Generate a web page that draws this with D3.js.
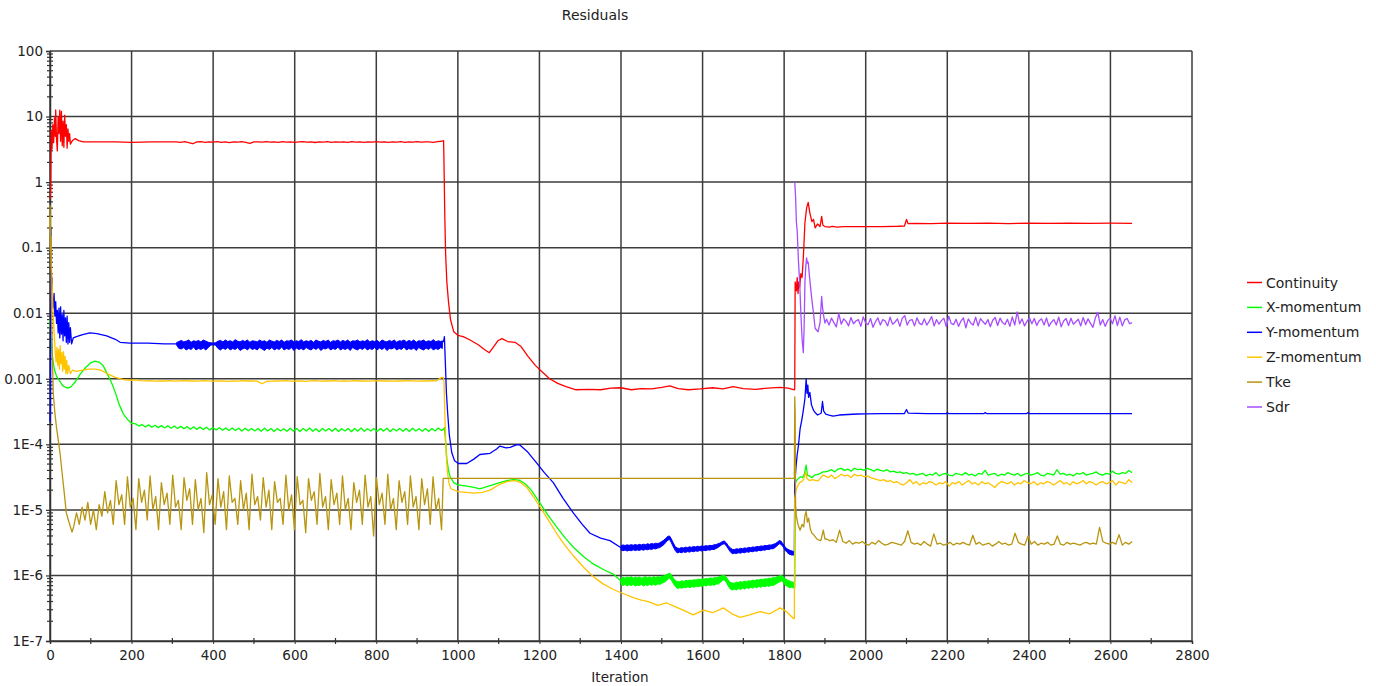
<!DOCTYPE html>
<html>
<head>
<meta charset="utf-8">
<script src="https://cdn.jsdelivr.net/npm/d3@7"></script>
<style>
  body { margin: 0; background: #fff; }
  svg { display: block; }
  text { font-family: "DejaVu Sans", sans-serif; fill: #222; }
</style>
</head>
<body>
<svg id="chart" width="1376" height="686"></svg>
<script>
// Evenly spaced samples between two iterations; vals are given in multiples of unit.
function run(from, to, unit, vals) {
  const n = vals.length;
  return vals.map((v, i) => [from + (to - from) * i / (n - 1), v * unit]);
}
// Min/max envelope rows [iteration, low, high] in multiples of unit.
function band(unit, rows) {
  return rows.map(r => [r[0], r[1] * unit, r[2] * unit]);
}

// ---- axis ticks ----
const xTickValues = [0, 200, 400, 600, 800, 1000, 1200, 1400, 1600, 1800, 2000, 2200, 2400, 2600, 2800];
const yTickValues = [100, 10, 1, 0.1, 0.01, 0.001, 1e-4, 1e-5, 1e-6, 1e-7];
const yTickLabels = ["100", "10", "1", "0.1", "0.01", "0.001", "1E-4", "1E-5", "1E-6", "1E-7"];

const seriesNames = ["Continuity", "X-momentum", "Y-momentum", "Z-momentum", "Tke", "Sdr"];
const seriesColors = ["#ff0000", "#00ff00", "#0000ff", "#ffc400", "#b8950f", "#a64dff"];

// ---- Continuity ----
const continuityStart = [[0,0.55],[1,0.62],[2,1.1],[3,6.2],[5,3.2],[7,7.5],[9,4],[11,9.5],[13,5],[14,12.6],[16,4.5],[18,3.0],[20,10],[22,5.5],[24,12.5],[26,4.2],[28,12],[30,3.6],[32,8.5],[34,3.4],[36,10.5],[38,5],[40,7.5],[42,3.3],[44,6.5],[46,4.2],[48,5.5],[50,3.8],[55,4.3],[62,4.6],[70,4.3],[82,4.1],[110,4.1],[160,4.1],[200,4.05],[250,4.1],[305,4.1]];
const continuityPlateau = run(310, 960, 1, [4.1,4.05,4.15,4.0,3.85,4.1,4.15,4.05,4.12,4.08,4.15,4.05,4.1,4.0,4.12,4.08,4.15,4.05,3.9,4.1,4.12,4.06,4.15,4.08,4.1,4.05,4.14,4.08,4.12,4.04,4.1,4.15,4.06,4.1,4.02,4.12,4.08,4.15,4.05,4.1,4.08,4.12,4.04,4.14,4.08,4.1,4.05,4.12,4.08,4.15,4.06,4.1,4.04,4.12,4.08,4.14,4.05,4.1,4.08,4.15,4.06,4.12,4.1,4.05,4.14,4.2]);
const continuityMid = [[965,4.3],[966,2],[968,0.3],[970,0.08],[973,0.03],[977,0.015],[982,0.008],[990,0.0052],[1000,0.0046],[1013,0.0044],[1030,0.0039],[1050,0.0033],[1065,0.0028],[1077,0.0025],[1088,0.0031],[1098,0.0038],[1108,0.0041],[1122,0.0037],[1140,0.0036],[1155,0.0031],[1172,0.0022],[1190,0.0016],[1205,0.0013],[1225,0.001],[1245,0.00085],[1265,0.00076],[1290,0.00068],[1320,0.00069],[1350,0.00068],[1375,0.00072],[1400,0.00073],[1425,0.00068],[1450,0.00071],[1475,0.0007],[1500,0.00074],[1520,0.00078],[1540,0.00071],[1565,0.00068],[1595,0.0007],[1625,0.00073],[1650,0.0007],[1675,0.00076],[1700,0.00071],[1730,0.00069],[1760,0.00072],[1790,0.00074],[1810,0.00072],[1825,0.00068]];
const continuityRestart = [[1826,0.0007],[1827,0.03],[1830,0.022],[1832,0.035],[1834,0.02],[1836,0.03],[1838,0.025],[1841,0.04],[1844,0.035],[1847,0.07],[1851,0.24],[1855,0.4],[1859,0.49],[1863,0.34],[1868,0.25],[1872,0.27],[1876,0.2],[1882,0.23],[1888,0.21],[1892,0.3],[1895,0.22],[1900,0.21],[1910,0.205],[1918,0.212],[1930,0.206],[1945,0.21],[1960,0.209],[1980,0.21],[2000,0.21],[2040,0.21],[2080,0.212],[2095,0.214],[2100,0.27],[2104,0.232],[2120,0.235],[2160,0.232],[2200,0.236],[2250,0.234],[2300,0.236],[2350,0.233],[2400,0.236],[2450,0.234],[2500,0.237],[2550,0.235],[2600,0.236],[2653,0.234]];

// ---- X-momentum ----
const xStart = [[0,0.008],[2,0.0045],[4,0.003],[6,0.0022],[9,0.0016],[12,0.0013],[16,0.0011],[20,0.001],[25,0.0009],[30,0.0008],[36,0.00075],[44,0.00072],[52,0.00076],[62,0.0009],[75,0.0012],[88,0.0015],[100,0.00175],[110,0.00186],[120,0.0018],[130,0.0016],[140,0.0012],[150,0.0009],[160,0.00062],[170,0.0004],[180,0.00029],[190,0.00024],[200,0.00021]];
const xPlateau = run(210, 960, 1e-4, [2.05,1.9,2.0,1.84,1.98,1.82,1.95,1.8,1.93,1.78,1.92,1.76,1.9,1.74,1.88,1.73,1.86,1.7,1.85,1.69,1.84,1.68,1.82,1.66,1.8,1.65,1.79,1.64,1.78,1.62,1.77,1.62,1.76,1.6,1.76,1.61,1.75,1.6,1.74,1.58,1.76,1.6,1.74,1.57,1.75,1.6,1.73,1.58,1.76,1.59,1.74,1.57,1.75,1.6,1.77,1.58,1.73,1.56,1.75,1.6,1.74,1.58,1.76,1.57,1.73,1.6,1.75,1.56,1.74,1.59,1.77,1.58,1.73,1.6,1.75,1.57,1.74,1.59,1.76,1.56,1.73,1.6,1.75,1.58,1.74,1.57,1.76,1.6,1.73,1.58,1.75,1.57,1.74,1.6,1.77,1.62]);
const xDrop = [[965,0.00017],[967,0.00018],[970,0.00011],[973,6e-5],[977,4e-5],[981,3.2e-5],[990,2.6e-5],[1000,2.4e-5],[1022,2.3e-5],[1040,2.2e-5],[1054,2.1e-5],[1075,2.3e-5],[1103,2.6e-5],[1120,2.8e-5],[1136,2.9e-5],[1150,2.85e-5],[1165,2.5e-5],[1180,2e-5],[1200,1.3e-5],[1220,8.5e-6],[1242,5.5e-6],[1262,3.8e-6],[1283,2.7e-6],[1310,1.9e-6],[1332,1.5e-6],[1360,1.2e-6],[1381,1.05e-6],[1400,8.2e-7]];
const xBand = band(1e-7, [[1400,7.4,9.0],[1405,7.0,9.4],[1410,7.3,9.1],[1415,6.9,9.5],[1420,7.2,9.2],[1425,7.0,9.6],[1430,7.3,9.1],[1435,6.9,9.4],[1440,7.1,9.2],[1445,7.0,9.5],[1450,7.3,9.1],[1455,6.9,9.3],[1460,7.2,9.6],[1465,7.0,9.2],[1470,7.3,9.5],[1475,7.1,9.2],[1480,7.3,9.6],[1485,7.1,9.3],[1490,7.4,9.6],[1495,7.3,9.4],[1500,7.6,9.8],[1505,7.8,9.8],[1510,8.2,10.2],[1515,8.7,10.5],[1519,9.2,10.9],[1524,8.4,10.1],[1529,7.4,9.0],[1534,6.7,8.3],[1539,6.3,8.1],[1544,6.5,8.0],[1549,6.4,8.3],[1554,6.6,8.1],[1559,6.5,8.4],[1564,6.7,8.3],[1569,6.5,8.5],[1574,6.8,8.4],[1579,6.6,8.6],[1584,6.9,8.5],[1589,6.7,8.8],[1594,6.9,8.6],[1599,6.8,8.9],[1604,7.1,8.8],[1609,6.9,9.0],[1614,7.2,8.9],[1619,7.0,9.2],[1624,7.2,9.0],[1629,7.1,9.3],[1634,7.4,9.2],[1639,7.4,9.5],[1644,7.9,9.7],[1649,8.4,10.0],[1653,8.6,10.2],[1658,7.9,9.4],[1663,6.9,8.5],[1668,6.2,7.8],[1673,6.0,7.7],[1678,6.2,7.6],[1683,6.0,7.9],[1688,6.3,7.8],[1693,6.1,8.1],[1698,6.4,7.9],[1703,6.2,8.2],[1708,6.5,8.0],[1713,6.3,8.3],[1718,6.6,8.2],[1723,6.4,8.5],[1728,6.7,8.3],[1733,6.5,8.6],[1738,6.8,8.5],[1743,6.6,8.8],[1748,6.9,8.6],[1753,6.7,8.9],[1758,7.0,8.8],[1763,6.8,9.1],[1768,7.1,9.0],[1773,7.0,9.3],[1778,7.3,9.2],[1783,7.6,9.6],[1788,7.9,9.8],[1793,8.3,10.1],[1798,7.8,9.5],[1803,7.1,8.9],[1808,6.8,8.5],[1813,6.5,8.3],[1818,6.6,8.0],[1825,6.4,7.8]]);
const xRestart = [[1825,6.6e-7],[1826,6.6e-7],[1827,2.5e-5],[1830,2.8e-5],[1835,3e-5],[1840,3.2e-5],[1845,3.1e-5],[1850,3.6e-5],[1854,4.8e-5],[1857,3.4e-5],[1862,3.3e-5],[1868,3.1e-5],[1875,3.4e-5],[1885,3.5e-5],[1895,3.8e-5]];
const xLate = run(1900, 2653, 1e-5, [3.8,3.9,4.1,3.8,4.2,4.3,4.0,4.2,3.9,4.3,4.1,4.2,4.0,4.3,4.1,3.9,4.2,4.0,3.9,4.1,3.8,3.9,3.7,3.8,3.6,3.7,3.5,3.6,3.4,3.5,3.6,3.3,3.5,3.4,3.7,3.3,3.5,3.6,3.4,3.3,3.6,3.5,3.4,3.7,3.4,3.5,3.3,3.6,3.5,4.0,3.4,3.5,3.6,3.3,3.5,3.4,3.7,3.5,3.4,3.6,3.3,3.5,3.6,3.4,3.5,3.7,3.4,3.3,3.6,3.5,3.4,4.1,3.5,3.6,3.4,3.5,3.3,3.6,3.5,3.7,3.4,3.5,3.6,3.8,3.5,3.4,3.6,3.5,3.9,3.6,3.5,3.7,3.6,4.0,3.7]);

// ---- Y-momentum ----
const yStart = [[0,0.00022],[1,0.00037],[2,0.2],[3,0.05],[4,0.028],[5,0.035],[6,0.018],[8,0.012],[10,0.02],[12,0.009],[14,0.015],[16,0.007],[18,0.011],[20,0.005],[22,0.012],[24,0.0042],[26,0.0125],[28,0.0048],[30,0.0095],[32,0.0038],[34,0.011],[36,0.0045],[38,0.0085],[40,0.0036],[42,0.009],[44,0.0034],[46,0.0072],[48,0.0036],[50,0.006],[53,0.0034],[57,0.0042],[65,0.0044],[80,0.0047],[98,0.005],[115,0.0049],[139,0.0045],[160,0.004],[172,0.0036],[196,0.0035],[240,0.0035],[280,0.0034],[310,0.0034]];
const yPlateauBand = band(1e-4, [[310,33,35.5],[316,29,37],[322,28.5,38.5],[328,30,36.5],[334,27.5,37.5],[340,29,39],[346,28,36],[352,30.5,38],[358,27.5,37],[364,29,38.5],[370,28,36.5],[376,29.5,39],[382,27.5,37.5],[388,30,36],[394,32.5,35.5],[400,33,35],[406,32.5,35.5],[412,29,37.5],[418,27.5,38.5],[424,29.5,36.5],[430,28,39],[436,30,37],[442,27.5,38],[448,29,36.5],[454,28,39.5],[460,30,37.5],[466,27,36.5],[472,28.5,38.5],[478,29.5,37],[484,27.5,39],[490,30,36],[496,28,38],[502,29,37.5],[508,27.5,36.5],[514,30,39],[520,28.5,37],[526,27,38],[532,29.5,36],[538,28,39],[544,30,37.5],[550,27.5,36.5],[556,29,38.5],[562,28,37],[568,30.5,39],[574,27.5,36],[580,29,38],[586,28,37.5],[592,30,39],[598,27,36.5],[604,29.5,38],[610,28,37],[616,29,39.5],[622,27.5,36.5],[628,30,38],[634,28.5,37],[640,27.5,38.5],[646,29.5,36],[652,28,39],[658,30,37.5],[664,27,36.5],[670,29,38.5],[676,28.5,37],[682,30,39],[688,27.5,36],[694,29,38],[700,28,37.5],[706,30.5,39],[712,27.5,36.5],[718,29,38.5],[724,28,37],[730,29.5,39],[736,27,36],[742,30,38],[748,28.5,37.5],[754,27.5,39],[760,29.5,36.5],[766,28,38],[772,30,37],[778,27.5,39.5],[784,29,36.5],[790,28,38],[796,30,37],[802,27.5,38.5],[808,29.5,36],[814,28,39],[820,30,37.5],[826,27,36.5],[832,29,38.5],[838,28.5,37],[844,30,39],[850,27.5,36],[856,29,38],[862,28,37.5],[868,30.5,39],[874,27.5,36.5],[880,29,38.5],[886,28,37],[892,29.5,39],[898,27,36],[904,30,38],[910,28.5,37.5],[916,27.5,39],[922,29.5,36.5],[928,28,38],[934,30,37],[940,27.5,39.5],[946,29,36.5],[952,28,38],[958,30,37],[962,29,38]]);
const yDrop = [[962,0.0037],[965,0.0037],[967,0.0044],[969,0.002],[972,0.0006],[975,0.0003],[979,0.00014],[985,7.5e-5],[992,5.6e-5],[1001,5.1e-5],[1022,5.1e-5],[1040,6e-5],[1054,7e-5],[1079,7.3e-5],[1095,8.5e-5],[1103,9.4e-5],[1118,8.8e-5],[1128,9e-5],[1145,9.9e-5],[1152,9.8e-5],[1170,7.8e-5],[1193,5.2e-5],[1212,3.7e-5],[1234,2.6e-5],[1258,1.5e-5],[1283,9e-6],[1305,6e-6],[1324,4.4e-6],[1350,3.7e-6],[1373,3.4e-6],[1400,2.65e-6]];
const yBand = band(1e-6, [[1400,2.45,2.85],[1405,2.38,2.92],[1410,2.44,2.86],[1415,2.36,2.93],[1420,2.42,2.88],[1425,2.38,2.95],[1430,2.46,2.89],[1435,2.4,2.96],[1440,2.45,2.9],[1445,2.41,2.98],[1450,2.48,2.92],[1455,2.43,3.0],[1460,2.5,2.95],[1465,2.46,3.04],[1470,2.53,2.98],[1475,2.49,3.07],[1480,2.57,3.02],[1485,2.54,3.1],[1490,2.62,3.06],[1495,2.66,3.15],[1500,2.8,3.3],[1505,2.95,3.45],[1510,3.2,3.7],[1515,3.45,3.95],[1519,3.55,4.0],[1523,3.2,3.65],[1528,2.75,3.15],[1533,2.4,2.75],[1538,2.2,2.62],[1543,2.27,2.58],[1548,2.22,2.66],[1553,2.29,2.62],[1558,2.24,2.7],[1563,2.31,2.66],[1568,2.27,2.73],[1573,2.34,2.69],[1578,2.3,2.76],[1583,2.37,2.72],[1588,2.33,2.79],[1593,2.4,2.75],[1598,2.36,2.82],[1603,2.43,2.78],[1608,2.39,2.85],[1613,2.46,2.81],[1618,2.43,2.88],[1623,2.5,2.85],[1628,2.48,2.93],[1633,2.58,2.95],[1638,2.68,3.05],[1643,2.82,3.12],[1648,2.97,3.28],[1653,3.05,3.36],[1658,2.85,3.15],[1663,2.55,2.85],[1668,2.3,2.62],[1673,2.14,2.5],[1678,2.19,2.48],[1683,2.16,2.55],[1688,2.22,2.52],[1693,2.19,2.59],[1698,2.25,2.56],[1703,2.22,2.63],[1708,2.29,2.6],[1713,2.26,2.68],[1718,2.33,2.65],[1723,2.3,2.72],[1728,2.37,2.69],[1733,2.34,2.77],[1738,2.41,2.74],[1743,2.38,2.82],[1748,2.45,2.79],[1753,2.43,2.87],[1758,2.5,2.84],[1763,2.48,2.92],[1768,2.56,2.9],[1773,2.55,2.98],[1778,2.68,3.05],[1783,2.85,3.2],[1788,3.05,3.4],[1792,3.0,3.35],[1797,2.75,3.05],[1802,2.45,2.75],[1807,2.25,2.55],[1812,2.12,2.45],[1818,2.05,2.38],[1824,2.05,2.3]]);
const yRestart = [[1824,2.1e-6],[1825,2.1e-6],[1826,2.5e-5],[1829,4.5e-5],[1832,7e-5],[1835,9.5e-5],[1839,1.7e-4],[1843,2.3e-4],[1847,3.3e-4],[1851,5e-4],[1854,1e-3],[1856,6e-4],[1858,8e-4],[1860,5.2e-4],[1863,6.2e-4],[1867,4e-4],[1872,3.3e-4],[1877,3e-4],[1882,2.8e-4],[1887,2.9e-4],[1891,3e-4],[1894,4.5e-4],[1897,3.2e-4],[1902,2.9e-4],[1910,2.8e-4],[1920,2.7e-4],[1935,2.8e-4],[1957,2.85e-4],[1980,2.9e-4],[2000,2.92e-4],[2040,2.95e-4],[2095,2.95e-4],[2100,3.4e-4],[2104,3e-4],[2150,2.95e-4],[2198,2.95e-4],[2200,3.05e-4],[2203,2.95e-4],[2290,2.95e-4],[2293,3.05e-4],[2296,2.95e-4],[2395,2.95e-4],[2398,3.05e-4],[2401,2.95e-4],[2500,2.95e-4],[2653,2.95e-4]];

// ---- Z-momentum ----
const zStart = [[0,0.3],[1,0.09],[2,0.15],[3,0.06],[5,0.03],[7,0.013],[9,0.007],[11,0.004],[13,0.0025],[15,0.0018],[17,0.003],[19,0.0016],[21,0.0028],[23,0.0014],[25,0.0032],[27,0.0017],[29,0.0025],[31,0.0013],[33,0.0026],[35,0.0014],[37,0.0022],[39,0.0012],[41,0.0019],[43,0.0012],[46,0.0016],[50,0.0012],[55,0.00135],[65,0.0013],[80,0.00135],[95,0.0014],[110,0.0014],[125,0.00135],[140,0.0012],[160,0.00105],[180,0.00097],[200,0.00095]];
const zPlateau = run(210, 960, 1e-4, [9.6,9.4,9.3,9.35,9.2,9.3,9.25,9.35,9.2,9.3,9.4,9.25,9.3,9.2,9.35,9.3,9.2,9.25,9.3,9.1,9.3,9.2,9.35,9.25,9.3,9.2,8.4,9.1,9.2,9.25,9.3,9.4,9.2,9.3,9.25,9.1,9.3,9.35,9.2,9.3,9.25,9.4,9.2,9.3,9.2,9.35,9.25,9.3,9.2,9.3,9.35,9.25,9.3,9.2,9.3,9.25,9.4,9.3,9.2,9.3,9.25,9.35,9.3,10.5]);
const zDrop = [[964,0.00105],[966,0.0009],[968,0.0003],[971,8e-5],[974,4e-5],[978,2.6e-5],[983,2.1e-5],[1001,1.9e-5],[1038,1.8e-5],[1060,1.85e-5],[1079,2e-5],[1100,2.4e-5],[1120,2.7e-5],[1140,2.8e-5],[1155,2.6e-5],[1169,2.2e-5],[1185,1.6e-5],[1202,1.1e-5],[1222,7e-6],[1242,4.4e-6],[1262,2.9e-6],[1283,2e-6],[1310,1.3e-6],[1332,9.6e-7],[1355,7.5e-7],[1381,6.1e-7],[1405,5.3e-7],[1430,4.6e-7],[1450,4.2e-7],[1467,4.0e-7],[1490,3.5e-7],[1512,3.8e-7],[1530,3.4e-7],[1555,2.9e-7],[1577,2.5e-7],[1602,2.95e-7],[1625,2.7e-7],[1651,3.2e-7],[1672,2.6e-7],[1692,2.3e-7],[1715,2.5e-7],[1741,2.8e-7],[1765,2.6e-7],[1790,3.2e-7],[1806,2.8e-7],[1823,2.2e-7]];
const zRestart = [[1825,2.2e-7],[1826,1.5e-5],[1829,2e-5],[1833,2.3e-5],[1838,2.6e-5],[1843,2.7e-5],[1848,2.9e-5],[1853,3.8e-5],[1856,3.0e-5],[1862,2.8e-5],[1870,2.9e-5],[1878,2.8e-5],[1884,2.8e-5],[1890,3.1e-5],[1896,3.4e-5]];
const zLate = run(1900, 2653, 1e-5, [3.3,3.1,3.4,3.0,3.2,3.5,3.3,3.4,3.1,3.5,3.3,3.4,3.2,3.3,3.1,3.0,2.9,2.8,2.9,2.7,2.8,2.6,2.7,2.5,2.4,2.6,2.9,2.5,2.7,2.4,2.6,2.5,2.7,2.6,2.4,2.6,2.5,2.7,2.3,2.6,2.5,2.7,2.4,2.6,2.8,2.5,2.6,2.4,2.7,2.5,2.6,2.4,2.2,2.5,2.7,2.6,2.5,2.7,2.4,2.6,2.5,2.8,2.6,2.5,2.7,2.4,2.6,2.5,2.7,2.6,2.4,2.6,2.8,2.5,2.6,2.4,2.7,2.5,2.6,2.8,2.5,2.7,2.6,2.4,2.6,2.7,2.5,2.6,2.8,2.4,2.7,2.6,2.5,2.9,2.6]);

// ---- Tke ----
const tkeStart = [[0,0.45],[1,0.2],[2,0.1],[4,0.01],[6,0.002],[8,0.0006],[12,0.0003],[16,0.00018],[20,0.00012],[25,7e-5],[30,3.5e-5],[35,1.8e-5],[40,9e-6],[45,7e-6],[50,5.5e-6],[54,4.6e-6]];
const tkeCycles = run(58, 960, 1e-6, [5.5,9,6,11,7,13,6,10,5,12,8,19,9,14,6,28,12,17,6,32,11,15,5,30,13,20,7,33,10,16,5,26,12,18,6,34,11,14,5,31,14,21,6,29,10,15,4.5,37,12,17,6,30,11,19,5,33,13,15,6,28,10,18,5,35,12,16,7,31,11,20,5,27,13,15,6,34,10,17,5,32,12,14,4.5,30,14,19,6,36,11,16,5,29,12,18,6,33,10,15,5,26,13,20,6,34,11,16,4,31,12,18,6,35,10,15,5,28,13,19,6,33,11,16,5,30,12,21,6,32,10,15,5]);
const tkeMid = [[962,1.1e-5],[964,3.03e-5],[1825,3.03e-5],[1826,5.3e-4],[1827,3e-4],[1828,1.2e-5],[1830,8e-6],[1834,6e-6],[1839,4.9e-6],[1844,6e-6],[1848,5.5e-6],[1851,8.2e-6],[1854,9.5e-6],[1857,6.5e-6],[1860,7.5e-6],[1864,5.2e-6],[1868,4.4e-6],[1872,4.2e-6],[1876,3.9e-6],[1880,3.6e-6],[1884,3.5e-6],[1890,3.4e-6],[1896,4.9e-6],[1900,3.6e-6]];
const tkeLate = run(1904, 2653, 1e-6, [3.6,3.4,3.5,3.2,4.9,3.3,3.1,3.4,3.0,3.2,3.1,3.3,3.0,2.9,3.2,3.0,3.4,3.1,2.9,3.0,3.2,3.1,3.0,2.9,3.3,4.8,3.2,3.0,3.1,2.9,3.3,3.0,2.8,4.3,3.0,3.1,2.9,3.0,3.2,2.9,3.1,3.0,3.2,3.0,2.9,4.1,3.0,3.2,2.9,3.0,3.1,2.8,3.0,3.3,3.0,3.1,2.9,3.0,4.4,3.2,3.0,2.9,4.0,3.0,3.3,2.9,3.1,3.0,3.2,2.9,3.0,4.0,3.0,2.9,3.2,3.0,3.1,3.0,2.9,3.1,3.2,3.0,3.1,3.0,5.4,3.3,3.1,3.0,3.2,3.0,4.2,2.9,3.2,3.0,3.3]);

// ---- Sdr ----
const sdrStart = [[1826,1.0],[1828,0.6],[1830,0.25],[1832,0.18],[1835,0.064],[1838,0.03],[1841,0.01],[1844,0.004],[1847,0.0025],[1849,0.006],[1851,0.03],[1853,0.051],[1855,0.07],[1857,0.058],[1859,0.06],[1863,0.032],[1868,0.016],[1872,0.01],[1876,0.0059],[1880,0.0055],[1883,0.0052],[1888,0.0071],[1892,0.018],[1894,0.0125],[1897,0.009],[1900,0.0071]];
const sdrLate = run(1904, 2653, 1e-3, [8.1,6.6,8.4,7.2,6.2,9.9,6.8,8.2,7.5,6.4,8.6,6.9,7.6,8.0,6.3,8.8,7.1,6.7,8.3,6.1,7.4,8.5,6.6,8.0,7.6,6.4,8.7,6.8,7.3,8.2,6.3,8.4,9.2,6.6,7.8,8.0,6.4,8.5,7.0,6.7,8.2,6.6,7.5,8.9,6.4,8.0,6.8,7.7,8.4,6.2,9.0,7.0,6.7,8.1,6.3,7.6,8.5,6.0,8.2,7.1,6.6,8.7,6.4,8.3,7.4,6.8,8.0,6.2,7.8,8.6,6.5,8.4,7.2,6.7,8.1,6.3,8.8,6.6,10.5,6.9,8.2,6.4,7.5,8.5,6.9,8.3,6.5,7.7,8.2,6.6,8.5,6.3,7.3,8.0,6.6,8.7,6.2,7.6,8.3,6.5,8.4,6.8,7.4,8.1,6.4,8.6,6.7,8.2,7.0,6.1,8.5,10.3,6.6,8.0,6.3,7.7,8.4,6.9,9.2,6.5,8.7,6.4,7.9,8.3,6.9,7.2]);

// Each series: line pieces plus filled min/max bands where the residual is a dense noise band.
const series = [
  { lines: [continuityStart.concat(continuityPlateau, continuityMid, continuityRestart)], bands: [] },
  { lines: [xStart.concat(xPlateau, xDrop), xRestart.concat(xLate)], bands: [xBand] },
  { lines: [yStart, yDrop, yRestart], bands: [yPlateauBand, yBand] },
  { lines: [zStart.concat(zPlateau, zDrop, zRestart, zLate)], bands: [] },
  { lines: [tkeStart.concat(tkeCycles, tkeMid, tkeLate)], bands: [] },
  { lines: [sdrStart.concat(sdrLate)], bands: [] }
];

// ---- layout ----
const plot = { left: 50, right: 1192, top: 51, bottom: 641 };
const x = d3.scaleLinear().domain([0, 2800]).range([plot.left, plot.right]);
const y = d3.scaleLog().domain([1e-7, 100]).range([plot.bottom, plot.top]);
const svg = d3.select("#chart");
const gridColor = "#3c3c3c";
const fontSize = 13.5;

// grid
const grid = svg.append("g");
grid.selectAll("line.v").data(xTickValues).join("line")
  .attr("class", "v")
  .attr("x1", d => x(d)).attr("x2", d => x(d))
  .attr("y1", plot.top).attr("y2", plot.bottom)
  .attr("stroke", gridColor).attr("stroke-width", 1.5);
grid.selectAll("line.h").data(yTickValues).join("line")
  .attr("class", "h")
  .attr("x1", plot.left).attr("x2", plot.right)
  .attr("y1", d => y(d)).attr("y2", d => y(d))
  .attr("stroke", gridColor).attr("stroke-width", 1.5);

// y axis with labels and minor log ticks
const yAxis = d3.axisLeft(y).tickValues(yTickValues)
  .tickFormat((d, i) => yTickLabels[i]).tickSize(4).tickPadding(3);
const gy = svg.append("g").attr("transform", `translate(${plot.left},0)`).call(yAxis);
gy.select(".domain").attr("stroke", "#333").attr("stroke-width", 1.5);
gy.selectAll(".tick line").attr("stroke", "#333").attr("stroke-width", 1.2);
gy.selectAll(".tick text").attr("font-size", fontSize).attr("font-family", "DejaVu Sans").attr("fill", "#222");

const minorY = [];
for (let e = -7; e < 2; e++) for (let k = 2; k <= 9; k++) minorY.push(k * Math.pow(10, e));
svg.append("g").selectAll("line").data(minorY).join("line")
  .attr("x1", plot.left - 3).attr("x2", plot.left + 3)
  .attr("y1", d => y(d)).attr("y2", d => y(d))
  .attr("stroke", "#333").attr("stroke-width", 1.2);

// x axis
const xAxis = d3.axisBottom(x).tickValues(xTickValues).tickFormat(d3.format("d"))
  .tickSize(3).tickPadding(6);
const gxa = svg.append("g").attr("transform", `translate(0,${plot.bottom})`).call(xAxis);
gxa.select(".domain").attr("stroke", "#333").attr("stroke-width", 1.5);
gxa.selectAll(".tick line").attr("stroke", "#333");
gxa.selectAll(".tick text").attr("font-size", fontSize).attr("font-family", "DejaVu Sans").attr("fill", "#222");
const minorX = d3.range(100, 2800, 200);
svg.append("g").selectAll("line").data(minorX).join("line")
  .attr("x1", d => x(d)).attr("x2", d => x(d))
  .attr("y1", plot.bottom - 3).attr("y2", plot.bottom + 3)
  .attr("stroke", "#333").attr("stroke-width", 1.2);

// residual curves
const line = d3.line().x(d => x(d[0])).y(d => y(d[1]));
const area = d3.area().x(d => x(d[0])).y0(d => y(d[1])).y1(d => y(d[2]));
const curves = svg.append("g");
series.forEach((s, i) => {
  const g = curves.append("g");
  g.selectAll("path.band").data(s.bands).join("path")
    .attr("class", "band")
    .attr("d", d => area(d))
    .attr("fill", seriesColors[i])
    .attr("stroke", seriesColors[i])
    .attr("stroke-width", 1)
    .attr("stroke-linejoin", "round");
  g.selectAll("path.line").data(s.lines).join("path")
    .attr("class", "line")
    .attr("d", d => line(d))
    .attr("fill", "none")
    .attr("stroke", seriesColors[i])
    .attr("stroke-width", 1.3)
    .attr("stroke-linejoin", "round");
});

// titles
svg.append("text").attr("x", 595).attr("y", 20).attr("text-anchor", "middle")
  .attr("font-size", 14).text("Residuals");
svg.append("text").attr("x", 620).attr("y", 682).attr("text-anchor", "middle")
  .attr("font-size", fontSize).text("Iteration");

// legend
const legend = svg.append("g").selectAll("g").data(seriesNames).join("g")
  .attr("transform", (d, i) => `translate(1247,${282.5 + i * 24.9})`);
legend.append("line").attr("x1", 0).attr("x2", 15).attr("y1", 0).attr("y2", 0)
  .attr("stroke", (d, i) => seriesColors[i]).attr("stroke-width", 1.5);
legend.append("text").attr("x", 19).attr("y", 0).attr("dy", "0.36em")
  .attr("font-size", 14).text(d => d);
</script>
</body>
</html>
